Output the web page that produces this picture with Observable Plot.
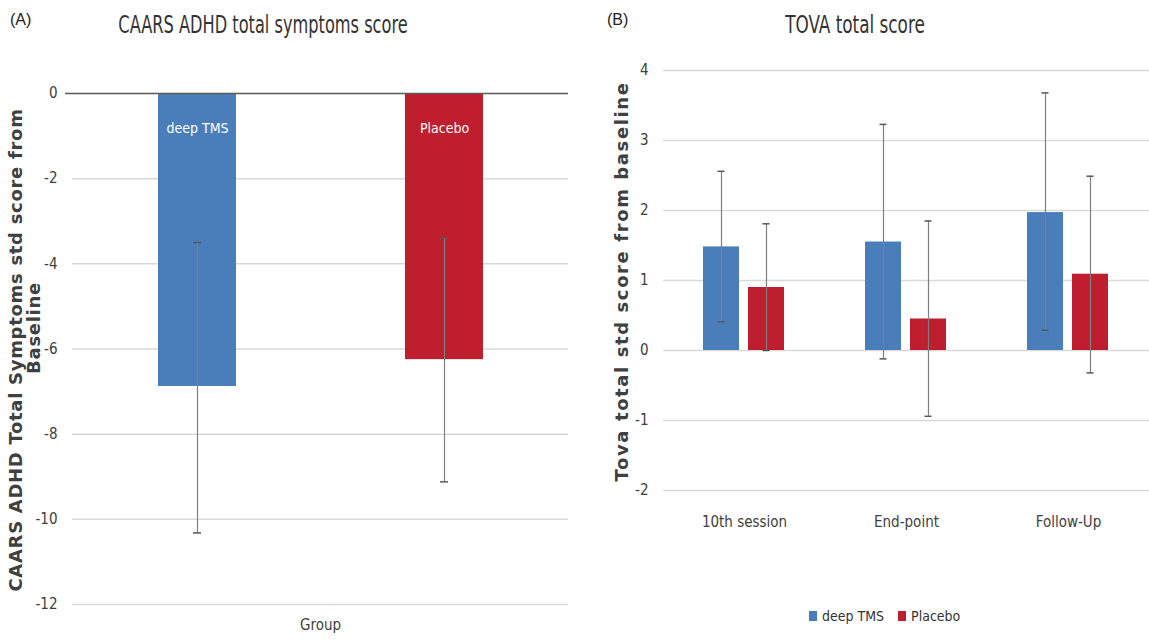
<!DOCTYPE html>
<html><head><meta charset="utf-8">
<script src="https://cdn.jsdelivr.net/npm/d3@7"></script>
<script src="https://cdn.jsdelivr.net/npm/@observablehq/plot@0.6"></script>
<style>
body{margin:0;background:#fff;}
#wrap{position:relative;width:1149px;height:641px;overflow:hidden;background:#fff;font-family:"DejaVu Sans Condensed","Liberation Sans Narrow",sans-serif;color:#404040;}
.abs{position:absolute;white-space:nowrap;line-height:1;}
#wrap svg{position:absolute;top:0;overflow:visible;}
</style></head><body><div id="wrap"></div>
<script>
// ---- data ----
const seriesNames = ["deep TMS", "Placebo"];
const seriesColors = ["#4a7ebb", "#be1e2d"];

const caarsCategory = ["Group"];
const caarsMean = [-6.88, -6.25];
const caarsLow = [-10.32, -9.12];
const caarsHigh = [-3.5, -3.4];
const caarsTicks = [0, -2, -4, -6, -8, -10, -12];
const caarsTitle = "CAARS ADHD total symptoms score";
const caarsYLabel = "CAARS ADHD Total Symptoms std score from\nBaseline";

const tovaTimepoints = ["10th session", "End-point", "Follow-Up"];
const tovaDeepMean = [1.48, 1.55, 1.97];
const tovaDeepLow = [0.41, -0.12, 0.29];
const tovaDeepHigh = [2.56, 3.23, 3.68];
const tovaPlaceboMean = [0.90, 0.45, 1.09];
const tovaPlaceboLow = [0.0, -0.94, -0.32];
const tovaPlaceboHigh = [1.81, 1.85, 2.49];
const tovaTicks = [-2, -1, 0, 1, 2, 3, 4];
const tovaTitle = "TOVA total score";
const tovaYLabel = "Tova total std score from baseline";

// ---- build tables ----
const caarsRows = seriesNames.map((s, i) => ({cat: caarsCategory[0], series: s, mean: caarsMean[i], low: caarsLow[i], high: caarsHigh[i]}));
const tovaRows = [];
tovaTimepoints.forEach((t, i) => {
  tovaRows.push({cat: t, series: seriesNames[0], mean: tovaDeepMean[i], low: tovaDeepLow[i], high: tovaDeepHigh[i]});
  tovaRows.push({cat: t, series: seriesNames[1], mean: tovaPlaceboMean[i], low: tovaPlaceboLow[i], high: tovaPlaceboHigh[i]});
});

const FONT = '"DejaVu Sans Condensed","Liberation Sans Narrow",sans-serif';
const BOLD = '"DejaVu Sans",sans-serif';
const fmt = d => String(d);
const wrap = document.getElementById("wrap");

const left = Plot.plot({
  width: 580, height: 641,
  marginLeft: 72, marginRight: 12, marginTop: 93, marginBottom: 37,
  style: {fontFamily: FONT, fontSize: "15px", color: "#404040", background: "transparent"},
  fx: {domain: caarsCategory, padding: 0, label: null, tickSize: 0, tickPadding: 15, axis: "bottom"},
  x: {domain: seriesNames, paddingInner: 0.685, paddingOuter: 0.3427, axis: null},
  y: {domain: [-12, 0], ticks: caarsTicks, tickFormat: fmt, tickSize: 0, tickPadding: 15, label: null},
  color: {domain: seriesNames, range: seriesColors},
  marks: [
    Plot.gridY(caarsTicks.filter(d => d !== 0), {stroke: "#d9d9d9", strokeOpacity: 1, strokeWidth: 1.5}),
    Plot.barY(caarsRows, {fx: "cat", x: "series", y: "mean", fill: "series"}),
    Plot.ruleY([0], {stroke: "#595959", strokeWidth: 1.5, insetLeft: -7}),
    Plot.ruleX(caarsRows, {fx: "cat", x: "series", y1: "low", y2: "high", stroke: "#7f7f7f", strokeWidth: 1.2}),
    Plot.tickY(caarsRows, {fx: "cat", x: "series", y: "low", stroke: "#595959", strokeWidth: 1.5, insetLeft: 35, insetRight: 35}),
    Plot.tickY(caarsRows, {fx: "cat", x: "series", y: "high", stroke: "#595959", strokeWidth: 1.5, insetLeft: 35, insetRight: 35}),
    Plot.text(caarsRows, {fx: "cat", x: "series", y: 0, text: "series", dy: 35, fill: "white", fontSize: 14}),
    Plot.text([caarsYLabel], {fx: caarsCategory, text: d => d, frameAnchor: "left", textAnchor: "middle", rotate: -90, dx: -47, dy: 1, fontFamily: BOLD, fontWeight: "bold", fontSize: 18, lineHeight: 1.0, fill: "#404040"})
  ]
});
left.style.left = "0px";
wrap.appendChild(left);

const right = Plot.plot({
  width: 569, height: 641,
  marginLeft: 83, marginRight: 0, marginTop: 70, marginBottom: 151,
  style: {fontFamily: FONT, fontSize: "15px", color: "#404040", background: "transparent"},
  fx: {domain: tovaTimepoints, padding: 0, label: null, tickSize: 0, tickPadding: 26, axis: "bottom", fontSize: 14},
  x: {domain: seriesNames, paddingInner: 0.196, paddingOuter: 0.859, axis: null},
  y: {domain: [-2, 4], ticks: tovaTicks, tickFormat: fmt, tickSize: 0, tickPadding: 15, label: null},
  color: {domain: seriesNames, range: seriesColors},
  marks: [
    Plot.gridY(tovaTicks, {stroke: "#d9d9d9", strokeOpacity: 1, strokeWidth: 1.5}),
    Plot.barY(tovaRows, {fx: "cat", x: "series", y: "mean", fill: "series"}),
    Plot.ruleX(tovaRows, {fx: "cat", x: "series", y1: "low", y2: "high", stroke: "#7f7f7f", strokeWidth: 1.2}),
    Plot.tickY(tovaRows, {fx: "cat", x: "series", y: "low", stroke: "#595959", strokeWidth: 1.5, insetLeft: 14.5, insetRight: 14.5}),
    Plot.tickY(tovaRows, {fx: "cat", x: "series", y: "high", stroke: "#595959", strokeWidth: 1.5, insetLeft: 14.5, insetRight: 14.5}),
    Plot.text([tovaYLabel], {fx: [tovaTimepoints[0]], text: d => d, frameAnchor: "left", textAnchor: "middle", rotate: -90, dx: -41, dy: 1, fontFamily: BOLD, fontWeight: "bold", fontSize: 18, fill: "#404040"})
  ]
});
right.style.left = "580px";
wrap.appendChild(right);

// stretch the axis titles a little, as in the reference
function spaceText(svg, startsWith, spacing) {
  svg.querySelectorAll("text").forEach(t => {
    if (t.textContent.startsWith(startsWith)) t.style.letterSpacing = spacing;
  });
}
spaceText(left, "CAARS ADHD", "0.7px");
spaceText(right, "Tova total", "1.6px");
// second line of the left title sits slightly higher in the reference
left.querySelectorAll("tspan").forEach(ts => {
  if (ts.textContent === "Baseline") ts.setAttribute("x", "22");
});

function addText(txt, x, y, css) {
  const d = document.createElement("div");
  d.className = "abs";
  d.textContent = txt;
  d.style.left = x + "px";
  d.style.top = y + "px";
  Object.assign(d.style, css || {});
  wrap.appendChild(d);
  return d;
}
// panel letters and titles
addText("(A)", 10, 12, {fontFamily: '"Liberation Sans",Arial,sans-serif', fontSize: "16px", color: "#222"});
addText("(B)", 607, 12, {fontFamily: '"Liberation Sans",Arial,sans-serif', fontSize: "16px", color: "#222"});
addText(caarsTitle, 263, 12, {fontSize: "25px", color: "#333", transform: "translateX(-50%) scaleX(0.72)"});
addText(tovaTitle, 855, 12, {fontSize: "25px", color: "#333", transform: "translateX(-50%) scaleX(0.75)"});

// legend
const leg = document.createElement("div");
leg.className = "abs";
leg.style.left = "809px"; leg.style.top = "609px";
leg.style.fontSize = "14px"; leg.style.color = "#333";
leg.style.display = "flex"; leg.style.alignItems = "center";
seriesNames.forEach((s, i) => {
  const sw = document.createElement("span");
  sw.style.cssText = `display:inline-block;width:8px;height:10px;background:${seriesColors[i]};margin-right:5px;margin-left:${i ? 14 : 0}px`;
  const lb = document.createElement("span");
  lb.textContent = s;
  leg.appendChild(sw); leg.appendChild(lb);
});
wrap.appendChild(leg);
</script></body></html>
